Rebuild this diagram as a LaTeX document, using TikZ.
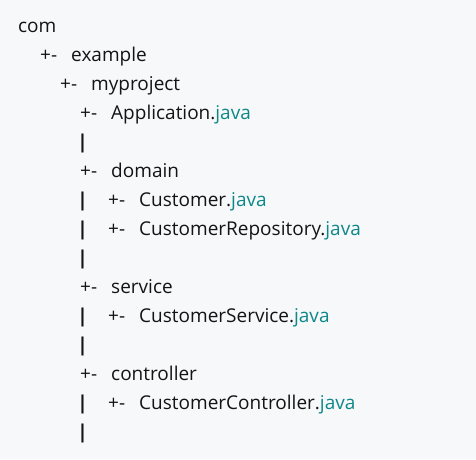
\documentclass[tikz,border=0pt]{standalone}
\usepackage{fontspec}
\setmainfont{Open Sans}
\newfontfamily\barfont{DejaVu Sans}

\definecolor{codebg}{HTML}{F6F8FA}
\definecolor{codefg}{HTML}{141414}
\definecolor{javateal}{HTML}{0E8788}

\newcommand{\branch}{\makebox[31pt][l]{+-}}
\newcommand{\jv}{\textcolor{javateal}{java}}

\begin{document}
\begin{tikzpicture}[
        x=1pt, y=1pt,
        line/.style={anchor=base west, inner sep=0pt, text=codefg, font=\fontsize{19}{22}\selectfont},
        bar/.style={line, font=\fontsize{19}{22}\barfont\bfseries}
    ]

    % --- background ---
    \fill[codebg] (0,0) rectangle (476,-459);
    \useasboundingbox (0,0) rectangle (476,-459);

    % --- top packages ---
    \node[line] (com) at (18,-32) {com};
    \node[line] (example) at (40,-61) {\branch example};
    \node[line] (myproject) at (60,-90) {\branch myproject};
    \node[line] (app) at (80,-119) {\branch Application.\jv};
    \node[bar] (bar1) at (79,-148) {|};

    % --- domain ---
    \node[line] (domain) at (80,-177) {\branch domain};
    \node[bar] (bar2) at (79,-206) {|};
    \node[line] (customer) at (108,-206) {\branch Customer.\jv};
    \node[bar] (bar3) at (79,-235) {|};
    \node[line] (repo) at (108,-235) {\branch CustomerRepository.\jv};
    \node[bar] (bar4) at (79,-264) {|};

    % --- service ---
    \node[line] (service) at (80,-293) {\branch service};
    \node[bar] (bar5) at (79,-322) {|};
    \node[line] (custservice) at (108,-322) {\branch CustomerService.\jv};
    \node[bar] (bar6) at (79,-351) {|};

    % --- controller ---
    \node[line] (controller) at (80,-380) {\branch controller};
    \node[bar] (bar7) at (79,-409) {|};
    \node[line] (custcontroller) at (108,-409) {\branch CustomerController.\jv};
    \node[bar] (bar8) at (79,-438) {|};

\end{tikzpicture}
\end{document}
